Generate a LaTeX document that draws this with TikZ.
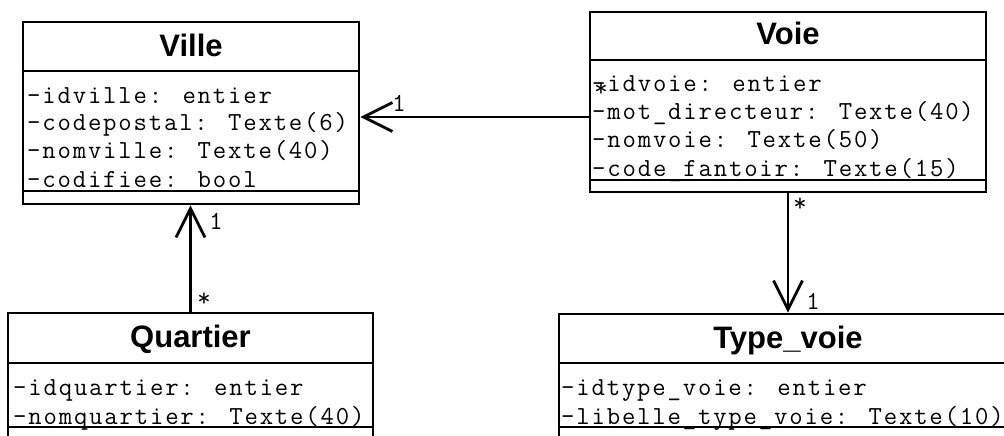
\documentclass[tikz,border=0pt]{standalone}
\usepackage{fontspec}
\usetikzlibrary{arrows.meta}
\newfontfamily\umltitle{Liberation Sans}
\newfontfamily\umlattr{Latin Modern Mono}[LetterSpace=7]
\newfontfamily\umlmono{Latin Modern Mono}
\tikzset{
  box/.style={draw, line width=2.6pt, inner sep=0pt},
  sepline/.style={line width=2.6pt},
  ctitle/.style={font=\umltitle\bfseries\fontsize{31}{31}\selectfont, inner sep=0pt, anchor=base},
  attr/.style={font=\umlattr\fontsize{26}{28}\selectfont, inner sep=0pt, anchor=base west},
  mult/.style={font=\umlmono\fontsize{26}{28}\selectfont, inner sep=0pt, anchor=base},
  assoc/.style={line width=2.8pt, -{Straight Barb[length=29pt,width=29pt]}}
}
\begin{document}
\begin{tikzpicture}[x=1pt,y=-1pt]
\clip (0,0) rectangle (1004,436);
\fill[white] (0,0) rectangle (1004,436);
% class boxes
\node[box, minimum width=336pt, minimum height=182pt] (ville) at (191,113) {};
\node[box, minimum width=396pt, minimum height=180pt] (voie) at (788,102) {};
\node[box, minimum width=365pt, minimum height=157pt] (quartier) at (190.5,391.5) {};
\node[box, minimum width=458pt, minimum height=156pt] (typevoie) at (788,392) {};
% titles
\node[ctitle] (villeT) at (191,57) {Ville};
\node[ctitle] (voieT) at (788,45) {Voie};
\node[ctitle] (quartierT) at (190.5,347) {Quartier};
\node[ctitle] (typevoieT) at (788,348) {Type\_voie};
% attributes
\node[attr] (v1) at (27,103) {-idville: entier};
\node[attr] (v2) at (27,130.5) {-codepostal: Texte(6)};
\node[attr] (v3) at (27,158) {-nomville: Texte(40)};
\node[attr] (v4) at (27,187) {-codifiee: bool};
\node[attr] (w1) at (592,92) {-idvoie: entier};
\node[attr] (w2) at (592,119.5) {-mot\_directeur: Texte(40)};
\node[attr] (w3) at (592,147) {-nomvoie: Texte(50)};
\node[attr] (w4) at (592,176) {-code\_fantoir: Texte(15)};
\node[attr] (q1) at (13,395) {-idquartier: entier};
\node[attr] (q2) at (13,424) {-nomquartier: Texte(40)};
\node[attr] (t1) at (561,395) {-idtype\_voie: entier};
\node[attr] (t2) at (561,424) {-libelle\_type\_voie: Texte(10)};
% compartment separators
\draw[sepline] (ville.west |- 0,71) -- (ville.east |- 0,71);
\draw[sepline] (ville.west |- 0,191) -- (ville.east |- 0,191);
\draw[sepline] (voie.west |- 0,60) -- (voie.east |- 0,60);
\draw[sepline] (voie.west |- 0,180) -- (voie.east |- 0,180);
\draw[sepline] (quartier.west |- 0,363) -- (quartier.east |- 0,363);
\draw[sepline] (quartier.west |- 0,427) -- (quartier.east |- 0,427);
\draw[sepline] (typevoie.west |- 0,363) -- (typevoie.east |- 0,363);
\draw[sepline] (typevoie.west |- 0,427) -- (typevoie.east |- 0,427);
% associations
\draw[assoc] (voie.west |- 0,117) -- (ville.east |- 0,117);
\draw[assoc] (quartier.north) -- (quartier.north |- ville.south);
\draw[assoc] (voie.south) -- (typevoie.north);
% multiplicities
\node[mult] (m1) at (399,111.5) {1};
\node[mult] (m2) at (601,96) {*};
\node[mult] (m3) at (216,229) {1};
\node[mult] (m4) at (204,306) {*};
\node[mult] (m5) at (800,211) {*};
\node[mult] (m6) at (813,309) {1};
\end{tikzpicture}
\end{document}
